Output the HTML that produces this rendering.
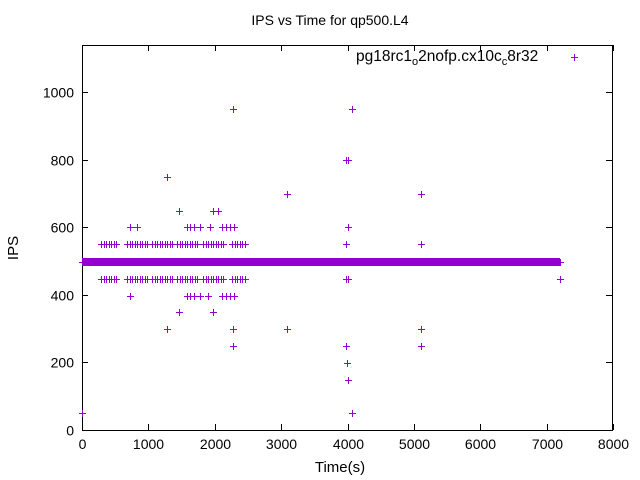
<!DOCTYPE html><html><head><style>body{margin:0;background:#fff}svg{display:block;font-family:"Liberation Sans",sans-serif}</style></head><body>
<svg id="s" width="640" height="480" xmlns="http://www.w3.org/2000/svg">
<rect width="640" height="480" fill="#fff"/>
<text x="330" y="25" font-size="14" text-anchor="middle">IPS vs Time for qp500.L4</text>
<g id="ax" stroke="#000" stroke-width="1" fill="none" shape-rendering="crispEdges"><rect x="82.5" y="45.5" width="530" height="385"/></g>
<g id="lab" font-size="14" fill="#000"></g>
<text x="340" y="472" font-size="15" text-anchor="middle">Time(s)</text>
<text x="18" y="248" font-size="15" text-anchor="middle" transform="rotate(-90 18 248)">IPS</text>
<text x="356" y="61" font-size="15.5">pg18rc1<tspan dy="4" font-size="11">o</tspan><tspan dy="-4">2nofp.cx10c</tspan><tspan dy="4" font-size="11">c</tspan><tspan dy="-4">8r32</tspan></text>
<rect x="82" y="258" width="478" height="8" fill="#9400d3"/>
<path id="pts" stroke="#9400d3" stroke-width="1" fill="none" shape-rendering="crispEdges"/>
</svg>
<script>
var X=function(v){return 82+v*0.0664},Y=function(v){return 430-v*0.3378};
var ax=document.getElementById('ax'),lab=document.getElementById('lab'),d='';
for(var i=0;i<=8;i++){var x=Math.round(X(i*1000))+0.5;d+='M'+x+' 430V424M'+x+' 45V51';var t=document.createElementNS('http://www.w3.org/2000/svg','text');t.setAttribute('x',x);t.setAttribute('y',449);t.setAttribute('text-anchor','middle');t.textContent=i*1000;lab.appendChild(t);}
for(var j=0;j<=1000;j+=200){var y=Math.round(Y(j))+0.5;d+='M82 '+y+'H88M612 '+y+'H606';var t=document.createElementNS('http://www.w3.org/2000/svg','text');t.setAttribute('x',74);t.setAttribute('y',y+5);t.setAttribute('text-anchor','end');t.textContent=j;lab.appendChild(t);}
var p=document.createElementNS('http://www.w3.org/2000/svg','path');p.setAttribute('d',d);ax.appendChild(p);
var pd='';function c(px,py){px=Math.round(px)+0.5;py=Math.round(py)+0.5;pd+='M'+(px-3.5)+' '+py+'h7M'+px+' '+(py-3.5)+'v7';}
var ranges=[[101,118],[127,147],[152,172],[177,198],[203,223],[232,245]];
ranges.forEach(function(r){for(var x=r[0];x<=r[1];x+=2.5){c(x,244);c(x,279);}});
[130,137,187,190,194,200,210,222,226,230,234,348].forEach(function(x){c(x,227)});
[130,187,190,194,200,208,222,226,230,234].forEach(function(x){c(x,296)});
[179,213,218].forEach(function(x){c(x,211)});
[179,213].forEach(function(x){c(x,312)});
[167,233,287,421].forEach(function(x){c(x,329)});
[233,346,421].forEach(function(x){c(x,346)});
c(167,177);c(287,194);c(421,194);c(233,109);c(352,109);c(346,160);c(348,160);
c(347,363);c(348,380);c(82,413);c(352,413);c(421,244);c(346,244);c(346,279);c(348,279);c(560,279);c(82,262);c(560,262);c(574,57);
document.getElementById('pts').setAttribute('d',pd);
</script>
</body></html>
